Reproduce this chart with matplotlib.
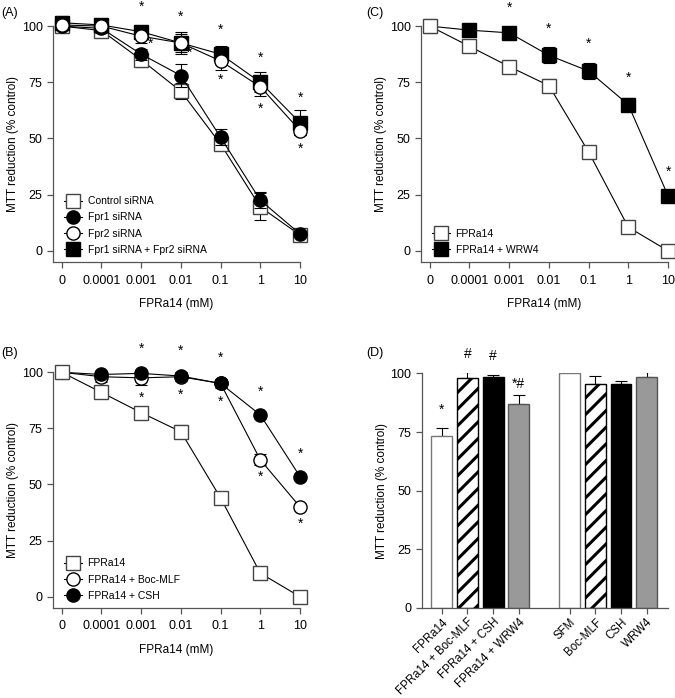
import numpy as np
import matplotlib
matplotlib.use('Agg')
import matplotlib.pyplot as plt

plt.rcParams['font.family'] = ['Liberation Sans', 'DejaVu Sans']
plt.rcParams['hatch.linewidth'] = 2.2

# shared x categories (FPRa14 dose, mM)
doses = ['0', '0.0001', '0.001', '0.01', '0.1', '1', '10']

# panel A
ctrl_sirna = [100, 98, 85, 71, 47.5, 19.5, 7]
ctrl_sirna_err = [2, 2, 3, 3.5, 2.5, 6, 1.5]
fpr1_sirna = [100, 99, 87.5, 78, 50.5, 22.5, 7.5]
fpr1_sirna_err = [1.5, 2, 2.5, 5, 3.5, 3.5, 1.5]
fpr2_sirna = [100.5, 100, 95.5, 92.5, 84.5, 73, 53.5]
fpr2_sirna_err = [2, 2, 3, 4.8, 4, 4, 2]
both_sirna = [101.5, 100.5, 97.5, 92.5, 87.5, 75, 57]
both_sirna_err = [3, 1.5, 2.5, 4, 3.5, 4.5, 5.5]
stars_a_x = [2, 2.24, 3, 3.22, 4, 4, 5, 5, 6, 6]
stars_a_y = [108.5, 92, 104, 88, 98.5, 76, 86, 63, 68, 45.5]

# panel C
fpra14 = [100, 91, 82, 73.5, 44, 10.5, 0]
fpra14_err = [3, 1, 1, 3, 1.5, 2.5, 0.5]
wrw4 = [100, 98.2, 97, 87, 80, 65, 24.5]
wrw4_err = [0, 1, 1, 3.5, 3.5, 3, 1]
stars_c_x = [2, 3, 4, 5, 6]
stars_c_y = [108, 99, 92, 77, 35]

# panel B
boc = [100, 98, 97.5, 98, 95, 61, 40]
boc_err = [0, 2.5, 3, 2, 2, 2.5, 1]
csh = [100, 99, 99.5, 98.3, 95, 81, 53.5]
csh_err = [0, 1, 1, 1, 1, 1, 1]
stars_b_x = [2, 2, 3, 3, 4, 4, 5, 5, 6, 6]
stars_b_y = [110.4, 88.8, 109.4, 90, 106.3, 87, 91.5, 53.3, 63.8, 32.7]

# panel D
bar_labels = ['FPRa14', 'FPRa14 + Boc-MLF', 'FPRa14 + CSH', 'FPRa14 + WRW4',
              'SFM', 'Boc-MLF', 'CSH', 'WRW4']
bar_vals = [73.3, 97.9, 98.3, 86.9, 100, 95.7, 95.3, 98.6]
bar_err = [3.3, 2.8, 1.2, 3.8, 1.2, 3.3, 1.6, 1.8]
bar_marks = ['*', '#', '#', '*#']
bar_marks_y = [84.7, 108.2, 107.5, 95.7]

spine_c = '#555555'
tfs = 9       # tick labels
lfs = 8.5     # axis labels

fig = plt.figure(figsize=(6.75, 6.98), dpi=100)
fig.set_facecolor('white')

axA = fig.add_axes([0.0785, 0.6246, 0.366, 0.338])
axC = fig.add_axes([0.6237, 0.6246, 0.366, 0.338])
axB = fig.add_axes([0.0785, 0.129, 0.366, 0.3377])
axD = fig.add_axes([0.625, 0.129, 0.364, 0.336])


def style(ax):
    for s in ['top', 'right']:
        ax.spines[s].set_visible(False)
    for s in ['left', 'bottom']:
        ax.spines[s].set_color(spine_c)
        ax.spines[s].set_linewidth(0.9)
    ax.tick_params(colors=spine_c, labelcolor='black', labelsize=tfs,
                   length=4, width=0.9)
    ax.tick_params(axis='x', pad=5)
    ax.set_ylabel('MTT reduction (% control)', fontsize=lfs, labelpad=1.5)


def dose_axes(ax):
    style(ax)
    ax.set_xlim(-0.22, 6.0)
    ax.set_ylim(-5, 100)
    ax.set_xticks(range(len(doses)))
    ax.set_xticklabels(doses)
    ax.set_yticks([0, 25, 50, 75, 100])
    ax.set_xlabel('FPRa14 (mM)', fontsize=lfs, labelpad=8.5)


def series(ax, y, err, marker, fc, ec, label, start=0, z=3):
    x = np.arange(len(y))
    ax.plot(x, y, color='black', lw=0.8, zorder=z, clip_on=False)
    ax.errorbar(x[start:], y[start:], yerr=err[start:], fmt='none', ecolor='black',
                elinewidth=0.8, capsize=4, capthick=0.8, zorder=z, clip_on=False)
    ax.plot(x[start:], y[start:], ls='none', marker=marker, ms=9.5, mfc=fc, mec=ec,
            mew=1.0, zorder=z + 0.5, clip_on=False)
    # legend handle: line through marker
    ax.plot([], [], color='black', lw=0.8, marker=marker, ms=9.5, mfc=fc, mec=ec,
            mew=1.0, label=label)


def stars(ax, xs, ys, txt='*'):
    for x, y in zip(xs, ys):
        ax.text(x, y, txt, ha='center', va='center', fontsize=10, clip_on=False)


def legend(ax, handles, labels):
    ax.legend(handles, labels, loc='lower left', bbox_to_anchor=(0.045, 0.03),
              frameon=False, fontsize=7.5, handlelength=1.7, handletextpad=0.55,
              labelspacing=0.6, borderpad=0, borderaxespad=0)


# (A)
dose_axes(axA)
series(axA, ctrl_sirna, ctrl_sirna_err, 's', 'white', '#444444', 'Control siRNA', z=3)
series(axA, fpr1_sirna, fpr1_sirna_err, 'o', 'black', 'black', 'Fpr1 siRNA', z=4)
series(axA, both_sirna, both_sirna_err, 's', 'black', 'black', 'Fpr1 siRNA + Fpr2 siRNA', z=5)
series(axA, fpr2_sirna, fpr2_sirna_err, 'o', 'white', 'black', 'Fpr2 siRNA', z=6)
stars(axA, stars_a_x, stars_a_y)
h, l = axA.get_legend_handles_labels()
order = [0, 1, 3, 2]
legend(axA, [h[i] for i in order], [l[i] for i in order])

# (C)
dose_axes(axC)
series(axC, wrw4, wrw4_err, 's', 'black', 'black', 'FPRa14 + WRW4', start=1, z=3)
series(axC, fpra14, fpra14_err, 's', 'white', '#444444', 'FPRa14', z=5)
stars(axC, stars_c_x, stars_c_y)
h, l = axC.get_legend_handles_labels()
legend(axC, h[::-1], l[::-1])

# (B)
dose_axes(axB)
series(axB, fpra14, fpra14_err, 's', 'white', '#444444', 'FPRa14', z=5)
series(axB, boc, boc_err, 'o', 'white', 'black', 'FPRa14 + Boc-MLF', start=1, z=3)
series(axB, csh, csh_err, 'o', 'black', 'black', 'FPRa14 + CSH', start=1, z=4)
stars(axB, stars_b_x, stars_b_y)
h, l = axB.get_legend_handles_labels()
legend(axB, h, l)

# (D)
style(axD)
pos = [0, 1, 2, 3, 5, 6, 7, 8]
faces = ['white', 'white', 'black', '#999999'] * 2
edges = ['#777777', 'black', 'black', '#555555'] * 2
hatches = ['', '//', '', ''] * 2
for p, v, e, fc, ec, ht in zip(pos, bar_vals, bar_err, faces, edges, hatches):
    axD.bar(p, v, width=0.82, color=fc, edgecolor=ec, hatch=ht, lw=1.0, zorder=2)
    axD.errorbar(p, v, yerr=[[0], [e]], fmt='none', ecolor='black', elinewidth=0.8,
                 capsize=4, capthick=0.8, zorder=1)
for p, m, y in zip(pos[:4], bar_marks, bar_marks_y):
    axD.text(p, y, m, ha='center', va='center', fontsize=10, clip_on=False)
axD.set_xlim(-0.78, 8.82)
axD.set_ylim(0, 100)
axD.set_yticks([0, 25, 50, 75, 100])
axD.set_xticks(pos)
axD.set_xticklabels(bar_labels, rotation=45, ha='right', rotation_mode='anchor',
                    fontsize=8.3)
axD.tick_params(axis='x', pad=2)

fig.text(0.002, 0.99, '(A)', fontsize=9, va='top')
fig.text(0.543, 0.99, '(C)', fontsize=9, va='top')
fig.text(0.002, 0.503, '(B)', fontsize=9, va='top')
fig.text(0.543, 0.503, '(D)', fontsize=9, va='top')

fig.savefig('out.png', dpi=100)
plt.close(fig)
